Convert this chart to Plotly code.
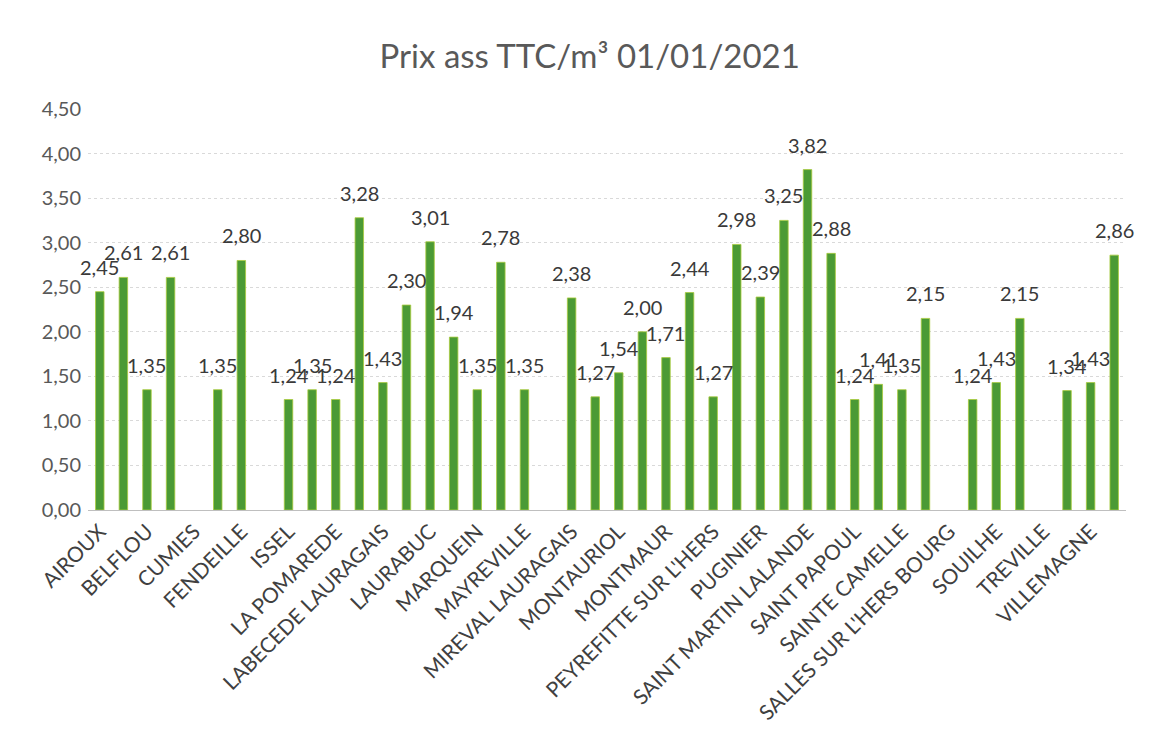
import plotly.graph_objects as go

communes = [
    "AIROUX", "BARAIGNE", "BELFLOU", "CASTELNAUDARY", "CUMIES", "FAJAC LA RELENQUE",
    "FENDEILLE", "GOURVIEILLE", "ISSEL", "LA CASSAIGNE", "LA POMAREDE", "LABASTIDE D'ANJOU",
    "LABECEDE LAURAGAIS", "LASBORDES", "LAURABUC", "LES CASSES", "MARQUEIN",
    "MAS SAINTES PUELLES", "MAYREVILLE", "MEZERVILLE", "MIREVAL LAURAGAIS", "MOLLEVILLE",
    "MONTAURIOL", "MONTFERRAND", "MONTMAUR", "PECHARIC ET LE PY", "PEYREFITTE SUR L'HERS",
    "PEYRENS", "PUGINIER", "RICAUD", "SAINT MARTIN LALANDE", "SAINT MICHEL DE LANES",
    "SAINT PAPOUL", "SAINT PAULET", "SAINTE CAMELLE", "SALLES SUR L'HERS",
    "SALLES SUR L'HERS BOURG", "SOUILHANELS", "SOUILHE", "SOUPEX", "TREVILLE",
    "VERDUN EN LAURAGAIS", "VILLEMAGNE", "VILLEPINTE",
]

prix = [
    2.45, 2.61, 1.35, 2.61, None, 1.35,
    2.80, None, 1.24, 1.35, 1.24, 3.28,
    1.43, 2.30, 3.01, 1.94, 1.35,
    2.78, 1.35, None, 2.38, 1.27,
    1.54, 2.00, 1.71, 2.44, 1.27,
    2.98, 2.39, 3.25, 3.82, 2.88,
    1.24, 1.41, 1.35, 2.15,
    None, 1.24, 1.43, 2.15, None,
    1.34, 1.43, 2.86,
]

# only every other category is labelled on the axis
shown_labels = communes[0::2]

y_ticks = [0, 0.5, 1.0, 1.5, 2.0, 2.5, 3.0, 3.5, 4.0, 4.5]

FONT = "Lato, Open Sans, sans-serif"

fig = go.Figure(
    go.Bar(
        x=communes,
        y=prix,
        marker=dict(color="#4b9a35", line=dict(color="#a9cc3c", width=0.8)),
        width=0.36,
    )
)

# data labels, placed above each bar via the data coordinates
for name, v in zip(communes, prix):
    if v is None:
        continue
    fig.add_annotation(
        x=name,
        y=v,
        text=f"{v:.2f}".replace(".", ","),
        showarrow=False,
        yanchor="bottom",
        xanchor="center",
        yshift=11,
        font=dict(size=20, color="#3a3a3a", family=FONT),
    )

fig.update_layout(
    width=1152,
    height=743,
    paper_bgcolor="white",
    plot_bgcolor="white",
    separators=", ",
    margin=dict(l=80, r=34, t=101, b=241),
    title=dict(
        text="Prix ass TTC/m³ 01/01/2021",
        x=0.505,
        xanchor="center",
        y=0.935,
        yanchor="middle",
        font=dict(size=33, color="#595959", family=FONT),
    ),
    showlegend=False,
    font=dict(family=FONT),
)

fig.update_yaxes(
    range=[0, 4.5],
    tickvals=y_ticks,
    tickformat=".2f",
    tickfont=dict(size=20, color="#595959", family=FONT),
    showgrid=True,
    gridcolor="#d9d9d9",
    gridwidth=1,
    griddash="dot",
    zeroline=False,
    showline=False,
    ticks="",
    ticklabelstandoff=6,
)

fig.update_xaxes(
    type="category",
    categoryorder="array",
    categoryarray=communes,
    range=[-0.5, len(communes) - 0.5],
    tickmode="array",
    tickvals=shown_labels,
    ticktext=shown_labels,
    tickangle=-45,
    tickfont=dict(size=21, color="#404040", family=FONT),
    showline=True,
    linecolor="#bfbfbf",
    linewidth=1,
    ticks="",
    showgrid=False,
)

fig.write_html("out.html")
